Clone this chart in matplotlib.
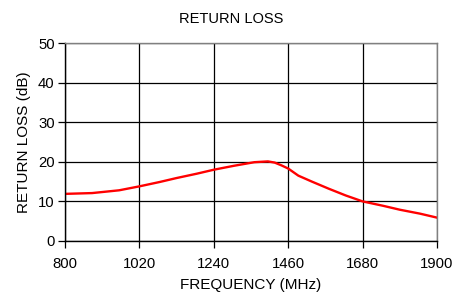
import matplotlib
matplotlib.use("Agg")
import matplotlib.pyplot as plt

freq = [800, 880, 960, 1020, 1080, 1130, 1190, 1240, 1300, 1360, 1400, 1420, 1440, 1460, 1490, 1530, 1580, 1630, 1680, 1740, 1790, 1850, 1900]
rl = [11.9, 12.1, 12.8, 13.8, 14.9, 15.9, 17.0, 18.0, 19.0, 19.9, 20.1, 19.8, 19.1, 18.3, 16.5, 15.0, 13.2, 11.5, 10.0, 8.9, 7.9, 6.9, 5.9]
xticks = [800, 1020, 1240, 1460, 1680, 1900]
yticks = [0, 10, 20, 30, 40, 50]

plt.rcParams['font.family'] = ['Liberation Sans', 'DejaVu Sans']
fig = plt.figure(figsize=(4.55, 2.92), dpi=100)
ax = fig.add_axes([0.1429, 0.1747, 0.8175, 0.678])
ax.plot(freq, rl, color='#ff0000', lw=1.7)
ax.set_xlim(800, 1900)
ax.set_ylim(0, 50)
ax.set_xticks(xticks)
ax.set_yticks(yticks)
ax.grid(True, color='black', lw=0.9)
for s in ax.spines.values():
    s.set_color('#808080')
    s.set_linewidth(1)
ax.spines['left'].set_color('black')
ax.spines['bottom'].set_color('black')
ax.tick_params(axis='both', labelsize=10.7, length=5, width=0.9, direction='out')
ax.tick_params(axis='y', pad=2.5)
ax.tick_params(axis='x', pad=6.5)
ax.set_xlabel('FREQUENCY (MHz)', fontsize=11, labelpad=5)
ax.set_ylabel('RETURN LOSS (dB)', fontsize=11, labelpad=5)
fig.text(231/455, 1 - 19/292, 'RETURN LOSS', fontsize=10.5, ha='center', va='center')
fig.savefig('out.png', dpi=100)
